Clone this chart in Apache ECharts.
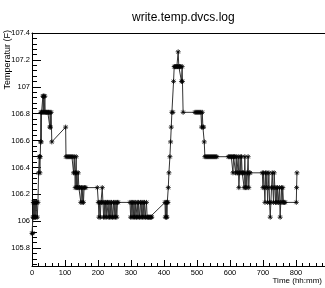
<!DOCTYPE html>
<html>
<head>
<meta charset="utf-8">
<script src="https://cdn.jsdelivr.net/npm/echarts@6/dist/echarts.min.js"></script>
<style>
  html, body { margin: 0; padding: 0; background: #fff; }
  #chart { width: 325px; height: 288px; }
</style>
</head>
<body>
<div id="chart"></div>
<script>
// [time, temperature F], one array per logging stretch
const stretch1 = [[0,105.91],[2,105.91],[3,106.03],[4,106.14],[5,106.03],[6,106.14],[7,106.03],[8,106.14],[9,106.03],[10,106.03],
  [11,106.14],[12,106.03],[13,106.14],[14,106.14],[16,106.03],[18,106.14],[20,106.36],[22,106.48],[23,106.48],[24,106.36],
  [25,106.48],[26,106.59],[27,106.81],[28,106.59],[29,106.81],[31,106.81],[33,106.93],[34,106.81],[35,106.93],[36,106.93],
  [37,106.81],[39,106.93],[40,106.81],[42,106.81],[44,106.81],[46,106.81],[48,106.81],[50,106.81],[52,106.81],[54,106.70],
  [55,106.81],[56,106.70],[58,106.81],[60,106.59]];
const stretch2 = [[102,106.70],[103,106.48],[106,106.48],[109,106.48],[112,106.48],[115,106.48],[118,106.48],[121,106.48],
  [124,106.48],[126,106.36],[128,106.48],[130,106.36],[131,106.25],[132,106.36],[134,106.48],[135,106.25],[136,106.36],
  [138,106.25],[140,106.36],[142,106.25],[144,106.25],[146,106.25],[148,106.14],[150,106.25],[152,106.14],[154,106.25],
  [156,106.14],[158,106.25],[160,106.25],[163,106.25]];
const stretch3 = [[198,106.25],[201,106.14],[203,106.03],[205,106.14],[207,106.03],[209,106.14],[211,106.14],[213,106.25],
  [215,106.14],[217,106.03],[219,106.14],[221,106.03],[223,106.14],[225,106.03],[227,106.14],[229,106.14],[231,106.03],
  [233,106.14],[235,106.03],[237,106.14],[239,106.03],[241,106.14],[243,106.03],[245,106.03],[247,106.14],[249,106.03],
  [251,106.14],[253,106.03],[255,106.14],[257,106.03],[259,106.14],[261,106.14]];
const stretch4 = [[297,106.14],[299,106.03],[301,106.14],[303,106.03],[305,106.14],[307,106.03],[309,106.14],[311,106.03],
  [313,106.14],[315,106.03],[317,106.03],[319,106.14],[321,106.03],[323,106.14],[325,106.03],[327,106.03],[329,106.14],
  [331,106.03],[333,106.14],[335,106.03],[337,106.14],[339,106.03],[341,106.14],[343,106.03],[345,106.03],[347,106.14],
  [349,106.03],[351,106.03],[353,106.03],[355,106.03],[357,106.03],[359,106.03],[361,106.03],[363,106.03]];
const stretch5 = [[403,106.14],[404,106.03],[406,106.14],[407,106.03],[408,106.14],[409,106.03],[410,106.14],[412,106.14],
  [413,106.25],[415,106.36],[418,106.48],[420,106.59],[422,106.70],[424,106.81],[427,106.81],[429,107.04],[431,107.15],
  [433,107.15],[435,107.15],[437,107.15],[439,107.15],[441,107.15],[443,107.26],[445,107.15],[447,107.15],[449,107.15],
  [451,107.15],[453,107.04],[455,107.15],[456,107.04],[458,106.81]];
const stretch6 = [[494,106.81],[497,106.81],[500,106.81],[503,106.81],[506,106.81],[509,106.81],[512,106.81],[514,106.70],
  [516,106.81],[518,106.70],[520,106.70],[522,106.59],[524,106.48],[527,106.48],[530,106.48],[533,106.48],[536,106.48],
  [539,106.48],[542,106.48],[545,106.48],[548,106.48],[551,106.48],[554,106.48],[557,106.48],[560,106.48]];
const stretch7 = [[595,106.48],[598,106.48],[601,106.48],[604,106.48],[607,106.48],[609,106.36],[611,106.48],[613,106.48],
  [615,106.48],[617,106.36],[619,106.48],[621,106.36],[623,106.36],[625,106.48],[627,106.25],[629,106.36],[631,106.48],
  [633,106.36],[635,106.48],[637,106.36],[639,106.36],[641,106.36],[643,106.25],[645,106.48],[647,106.25],[649,106.36],
  [651,106.25],[653,106.36],[655,106.48],[657,106.25],[659,106.36],[661,106.36]];
const stretch8 = [[698,106.36],[700,106.25],[702,106.36],[704,106.25],[706,106.14],[708,106.36],[710,106.25],[712,106.36],
  [714,106.14],[716,106.25],[718,106.36],[720,106.14],[722,106.03],[724,106.14],[726,106.25],[728,106.36],[730,106.25],
  [732,106.14],[734,106.36],[736,106.25],[738,106.14],[740,106.25],[742,106.14],[744,106.25],[746,106.14],[748,106.14],
  [750,106.25],[752,106.03],[754,106.14],[756,106.25],[758,106.14],[760,106.25],[762,106.14],[765,106.14],[767,106.14]];
const stretch9 = [[801,106.14],[802,106.25],[803,106.36]];

const xLabels = [0, 100, 200, 300, 400, 500, 600, 700, 800];
const yLabels = [105.8, 106, 106.2, 106.4, 106.6, 106.8, 107, 107.2, 107.4];

const X_MAX = 888;
const Y_MIN = 105.667;
const Y_MAX = 107.4;
const FONT = 'Liberation Sans';

// minor ticks: 5 per label step
const xMinor = [];
for (let v = 20; v < X_MAX; v += 20) {
  if (v % 100 !== 0) xMinor.push(v);
}
const yMinor = [];
for (let k = 0; k * 0.04 + 105.68 < Y_MAX; k++) {
  const v = Math.round((105.68 + k * 0.04) * 100) / 100;
  if (Math.round(v * 100) % 20 !== 0) yMinor.push(v);
}

const points = [].concat(stretch1, stretch2, stretch3, stretch4, stretch5,
  stretch6, stretch7, stretch8, stretch9);

const star = 'path://M0 5L10 5M5 0L5 10M1.5 1.5L8.5 8.5M8.5 1.5L1.5 8.5';
const black = { color: '#000', width: 1 };

const chart = echarts.init(document.getElementById('chart'));
chart.setOption({
  animation: false,
  title: {
    text: 'write.temp.dvcs.log',
    left: 127,
    top: 7,
    textStyle: { fontSize: 12, fontWeight: 'normal', fontFamily: FONT, color: '#000' }
  },
  grid: { left: 32, right: 0, top: 33, bottom: 22 },
  xAxis: [
    {
      type: 'value', min: 0, max: X_MAX, position: 'bottom',
      axisLine: { show: true, onZero: false, lineStyle: black },
      axisTick: { show: true, inside: true, length: 6, customValues: xLabels, lineStyle: black },
      axisLabel: { customValues: xLabels, fontSize: 7.5, fontFamily: FONT, color: '#000', margin: 3 },
      splitLine: { show: false }
    },
    {
      type: 'value', min: 0, max: X_MAX, position: 'bottom',
      axisLine: { show: false },
      axisTick: { show: true, inside: true, length: 3, customValues: xMinor, lineStyle: black },
      axisLabel: { show: false },
      splitLine: { show: false }
    },
    {
      type: 'value', min: 0, max: X_MAX, position: 'top',
      axisLine: { show: true, onZero: false, lineStyle: black },
      axisTick: { show: false },
      axisLabel: { show: false },
      splitLine: { show: false }
    }
  ],
  yAxis: [
    {
      type: 'value', min: Y_MIN, max: Y_MAX, position: 'left',
      axisLine: { show: true, onZero: false, lineStyle: black },
      axisTick: { show: true, inside: true, length: 9, customValues: yLabels, lineStyle: black },
      axisLabel: { customValues: yLabels, fontSize: 7.5, fontFamily: FONT, color: '#000', margin: 2 },
      splitLine: { show: false }
    },
    {
      type: 'value', min: Y_MIN, max: Y_MAX, position: 'left',
      axisLine: { show: false },
      axisTick: { show: true, inside: true, length: 5, customValues: yMinor, lineStyle: black },
      axisLabel: { show: false },
      splitLine: { show: false }
    }
  ],
  graphic: [
    {
      type: 'text', x: 8, y: 30, rotation: Math.PI / 2,
      style: { text: 'Temperatur (F)', font: '9px ' + FONT, fill: '#000',
        textAlign: 'right', align: 'right', textVerticalAlign: 'middle', verticalAlign: 'middle' }
    },
    {
      type: 'text', x: 322, y: 281,
      style: { text: 'Time (hh:mm)', font: '8px ' + FONT, fill: '#000',
        textAlign: 'right', align: 'right', textVerticalAlign: 'middle', verticalAlign: 'middle' }
    }
  ],
  series: [
    {
      type: 'line',
      xAxisIndex: 0,
      yAxisIndex: 0,
      data: points,
      symbol: star,
      symbolSize: 5,
      showAllSymbol: true,
      lineStyle: { color: '#333', width: 1 },
      itemStyle: { color: 'rgba(0,0,0,0)', borderColor: '#000', borderWidth: 0.8 }
    }
  ]
});
</script>
</body>
</html>
